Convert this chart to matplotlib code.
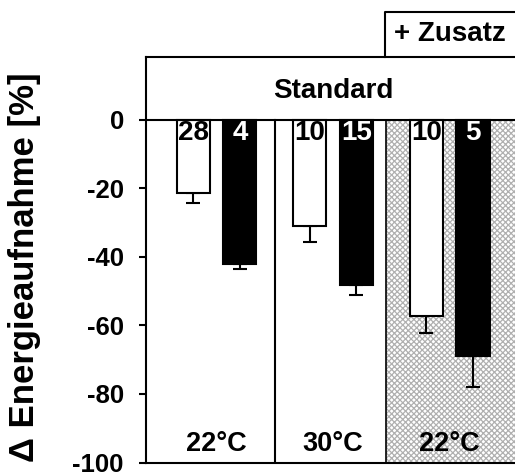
import numpy as np
import matplotlib.pyplot as plt

plt.rcParams['font.family'] = ['Liberation Sans', 'DejaVu Sans']
plt.rcParams['font.weight'] = 'bold'
plt.rcParams['axes.unicode_minus'] = False
plt.rcParams['hatch.color'] = '#b0b0b0'
plt.rcParams['hatch.linewidth'] = 0.9

# data
groups = ['22°C', '30°C', '22°C']
white_vals = [-21.5, -31.0, -57.4]
white_err = [2.9, 4.7, 4.9]
black_vals = [-42.1, -48.1, -68.9]
black_err = [1.5, 3.1, 9.0]
white_n = ['28', '10', '10']
black_n = ['4', '15', '5']
yticks = [0, -20, -40, -60, -80, -100]

x = np.arange(len(groups))
off = 0.2
w = 0.285

fig = plt.figure(figsize=(5.15, 4.73), dpi=100)
ax = fig.add_axes([146/515, 10.5/473, 369/515, 405.5/473])
ax.set_xlim(-0.605, 2.56)
ax.set_ylim(-100, 18.3)

# hatched "+ Zusatz" region
ax.fill_between([1.45, 2.6], -100, 0, facecolor='white', edgecolor='#b0b0b0',
                hatch='xxxxxx', linewidth=0, zorder=0)

ax.bar(x - off, white_vals, w, color='white', edgecolor='black', linewidth=1.5, zorder=2)
ax.bar(x + off, black_vals, w, color='black', edgecolor='black', linewidth=1.5, zorder=2)
ax.errorbar(x - off, white_vals, yerr=[white_err, np.zeros(3)], fmt='none',
            ecolor='black', elinewidth=1.5, capsize=5, capthick=1.5, zorder=1)
ax.errorbar(x + off, black_vals, yerr=[black_err, np.zeros(3)], fmt='none',
            ecolor='black', elinewidth=1.5, capsize=5, capthick=1.5, zorder=1)

for i in range(len(groups)):
    ax.text(x[i] - off, -4, white_n[i], ha='center', va='center', fontsize=20,
            color='black', zorder=3)
    ax.text(x[i] + off, -4, black_n[i], ha='center', va='center', fontsize=20,
            color='white', zorder=3)
    ax.text(x[i], -96.5, groups[i], ha='center', va='baseline', fontsize=19.5, zorder=3)

# separators and zero line
ax.plot([0.5, 0.5], [-100, 0], color='black', lw=1.5, zorder=1)
ax.plot([1.45, 1.45], [-100, 0], color='black', lw=1.2, zorder=1)
ax.axhline(0, color='black', lw=1.5, zorder=4)

# header boxes
ax.text(1.0, 8.5, 'Standard', ha='center', va='center', fontsize=20)
ax.plot([1.446, 1.446, 2.7], [18.3, 31.4, 31.4], color='black', lw=1.5, clip_on=False)
ax.text(2.0, 25, '+ Zusatz', ha='center', va='center', fontsize=20)

ax.spines['right'].set_visible(False)
for s in ['left', 'top', 'bottom']:
    ax.spines[s].set_linewidth(1.5)
ax.set_xticks([])
ax.set_yticks(yticks)
ax.tick_params(axis='y', direction='out', length=5, width=1.5, labelsize=18.5, pad=11)

fig.text(25/515, 1 - 267/473, 'Δ Energieaufnahme [%]', rotation=90, ha='center',
         va='center', fontsize=25, fontweight='bold')

fig.savefig('out.png', dpi=100)
